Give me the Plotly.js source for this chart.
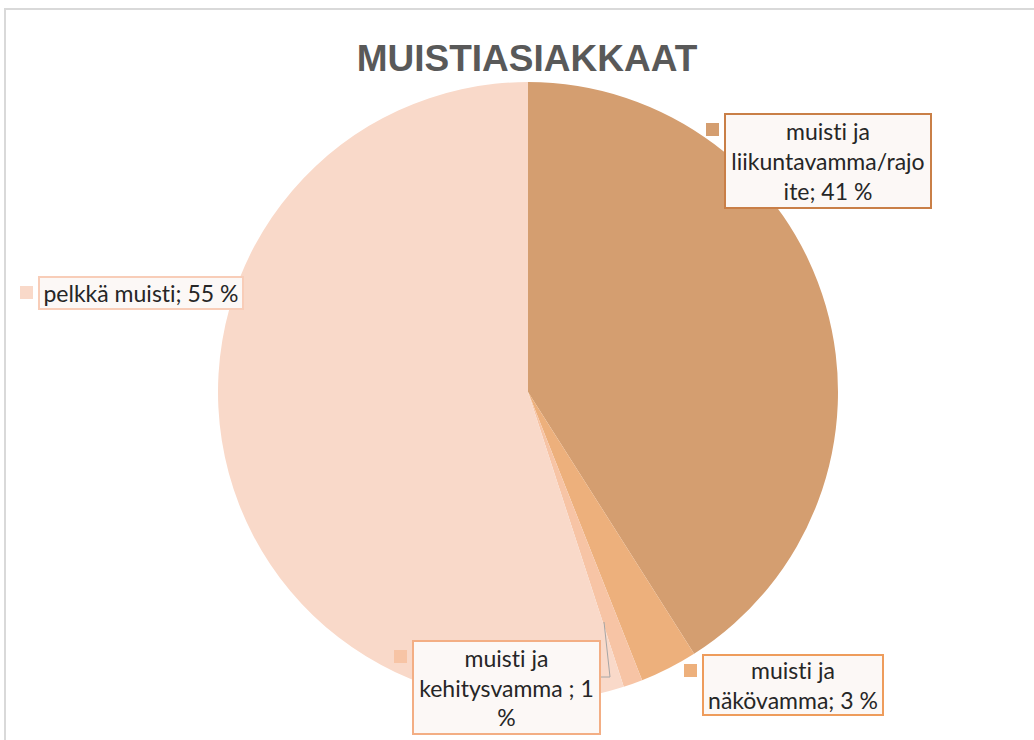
<!DOCTYPE html>
<html>
<head>
<meta charset="utf-8">
<script src="https://cdn.plot.ly/plotly-3.0.1.min.js"></script>
<style>html,body{margin:0;padding:0;background:#fff;}#chart{width:1034px;height:740px;}
#chart text{font-variant-ligatures:none;font-feature-settings:"liga" 0, "clig" 0;}</style>
</head>
<body>
<div id="chart"></div>
<script>
// ---- data ----
const categories = ["muisti ja liikuntavamma/rajoite", "muisti ja näkövamma", "muisti ja kehitysvamma", "pelkkä muisti"];
const values = [41, 3, 1, 55];
const labelLines = [
  ["muisti ja", "liikuntavamma/rajo", "ite; 41 %"],
  ["muisti ja", "näkövamma; 3 %"],
  ["muisti ja", "kehitysvamma ; 1", "%"],
  ["pelkkä muisti; 55 %"]
];
const sliceColors = ["#D49E70", "#EDB07C", "#F7C4A5", "#F9D9C9"];
const borderColors = ["#C97F47", "#EE9C5C", "#F3AE84", "#F8CDB8"];
const titleText = "MUISTIASIAKKAAT";

// ---- layout helpers (pixel -> paper) ----
const W = 1034, H = 740;
const px = x => x / W;
const py = y => 1 - y / H;

// label box geometry (px): [left, top, right, bottom]
const boxes = [
  [724, 113, 932, 209],
  [702, 654, 884, 716],
  [412, 640, 601, 735],
  [38, 276, 244, 310]
];

const annotations = [];
const shapes = [];
boxes.forEach((b, i) => {
  annotations.push({
    xref: 'paper', yref: 'paper',
    x: px((b[0] + b[2]) / 2), y: py((b[1] + b[3]) / 2),
    xanchor: 'center', yanchor: 'middle',
    text: labelLines[i].join('<br>'),
    showarrow: false,
    width: b[2] - b[0] - 4, height: b[3] - b[1] - 4,
    align: 'center', valign: 'middle',
    bgcolor: '#FCF8F6', bordercolor: borderColors[i], borderwidth: 2, borderpad: 0,
    font: {family: 'Lato, "Open Sans", sans-serif', size: 23, color: '#262626'}
  });
  // legend key square
  shapes.push({
    type: 'rect', xref: 'paper', yref: 'paper',
    x0: px(b[0] - 18), x1: px(b[0] - 5), y0: py(b[1] + 10), y1: py(b[1] + 23),
    fillcolor: sliceColors[i], line: {width: 0}
  });
});

// leader line for the small slice
shapes.push({
  type: 'path', xref: 'paper', yref: 'paper',
  path: `M ${px(604)} ${py(622)} L ${px(610)} ${py(677)} L ${px(601)} ${py(677)}`,
  line: {color: '#A6A6A6', width: 1}
});
// chart frame
shapes.push({type: 'line', xref: 'paper', yref: 'paper', x0: px(5), x1: px(5), y0: py(9), y1: 0, line: {color: '#D9D9D9', width: 2}});
shapes.push({type: 'line', xref: 'paper', yref: 'paper', x0: px(4), x1: 1, y0: py(9), y1: py(9), line: {color: '#D9D9D9', width: 2}});

const data = [{
  type: 'pie',
  labels: categories,
  values: values,
  sort: false,
  direction: 'clockwise',
  rotation: 0,
  textinfo: 'none',
  hoverinfo: 'label+percent',
  marker: {colors: sliceColors, line: {color: '#FFFFFF', width: 0}},
  domain: {x: [px(218), px(838)], y: [38 / H, 658 / H]},
  showlegend: false
}];

const layout = {
  width: W, height: H,
  margin: {l: 0, r: 0, t: 0, b: 0},
  paper_bgcolor: '#FFFFFF',
  showlegend: false,
  title: {
    text: '<b>' + titleText + '</b>',
    x: px(527), xanchor: 'center',
    y: py(58), yanchor: 'middle',
    font: {family: '"Liberation Sans", Arial, sans-serif', size: 37, color: '#595959'}
  },
  annotations: annotations,
  shapes: shapes
};

Plotly.newPlot('chart', data, layout, {displayModeBar: false, staticPlot: true});
</script>
</body>
</html>
